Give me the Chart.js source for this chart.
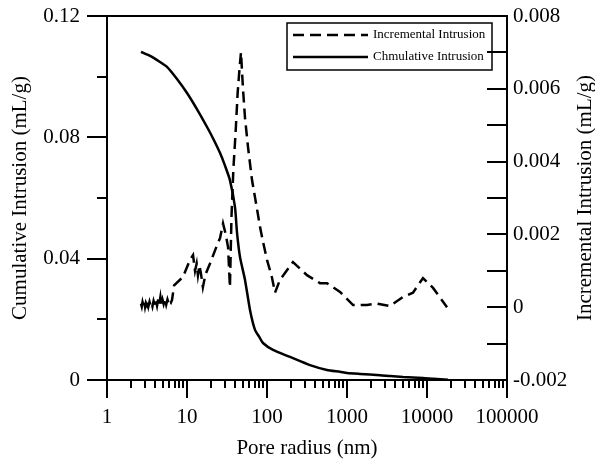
<!DOCTYPE html>
<html lang="en">
<head>
<meta charset="UTF-8">
<title>Pore size distribution</title>
<script src="https://cdn.jsdelivr.net/npm/chart.js"></script>
<style>
  html, body { margin: 0; padding: 0; background: #fff; }
</style>
</head>
<body>
<canvas id="myChart" width="595" height="463"></canvas>
<script>
// cumulative intrusion (left axis)
const cumRadius = [2.66, 3.5, 4.5, 5.62, 7.5, 10, 13.3, 17.8, 21.5, 25.9,
                   30, 34.4, 39.8, 42.2, 46, 53.1, 61.3, 70.8, 80, 89.1,
                   119, 194, 345, 562, 818, 1000, 1454, 2585, 3467, 5012,
                   8913, 12000, 18300];
const cumValue = [0.1082, 0.1068, 0.1050, 0.1032, 0.0992, 0.0946, 0.0893, 0.0834, 0.0793, 0.0748,
                  0.0705, 0.0659, 0.0570, 0.0485, 0.0405, 0.0330, 0.0231, 0.0165, 0.0142, 0.0122,
                  0.0099, 0.0076, 0.0049, 0.0033, 0.0027, 0.0023, 0.0020, 0.0016, 0.0013, 0.0010,
                  0.0007, 0.0004, 0.0001];

// incremental intrusion (right axis)
const incRadius = [2.66, 2.72, 2.78, 2.85, 2.92, 2.99, 3.06, 3.14, 3.22, 3.3,
                   3.4, 3.5, 3.6, 3.7, 3.82, 3.95, 4.08, 4.22, 4.36, 4.5,
                   4.65, 4.8, 4.95, 5.1, 5.3, 5.5, 5.7, 5.9, 6.1, 6.3,
                   6.5, 6.9, 8.9, 10.9, 11.9, 12.6, 13.2, 13.7, 14.3, 15.0,
                   15.8, 17.0, 19.4, 23.7, 25.9, 28.2, 30.5, 32.6, 34.4, 36.0,
                   38.0, 40.5, 43.0, 45.5, 47.3, 50.1, 53.1, 57.9, 64.9, 75,
                   81.9, 89.1, 100, 115, 126, 145, 211, 316, 460, 562,
                   818, 1190, 1780, 2370, 3430, 5010, 6680, 8910, 11900, 17800];
const incValue = [0.00010, 0.00002, 0.00014, 0.00004, 0.00016, 0.00001, 0.00012, 0.00006, 0.00018, 0.00003,
                  0.00015, 0.00005, 0.00012, 0.00002, 0.00017, 0.00006, 0.00019, 0.00004, 0.00022, 0.00008,
                  0.00028, 0.00005, 0.00020, 0.00009, 0.00024, 0.00007, 0.00021, 0.00010, 0.00018, 0.00013,
                  0.00020, 0.0006, 0.00083, 0.0013, 0.00143, 0.0010, 0.0012, 0.00088, 0.00115, 0.0009,
                  0.00055, 0.0009, 0.0012, 0.0017, 0.0019, 0.0023, 0.0020, 0.00165, 0.00055, 0.0025,
                  0.0038, 0.0048, 0.0059, 0.0066, 0.0070, 0.0060, 0.0052, 0.0044, 0.0035, 0.0027,
                  0.0022, 0.0018, 0.0013, 0.00083, 0.0004, 0.00075, 0.00124, 0.00088, 0.00066, 0.00066,
                  0.00042, 0.00006, 0.00006, 0.0001, 0.00003, 0.00028, 0.0004, 0.0008, 0.00053, 0.0];

// tick labels
const xTickValues = [1, 10, 100, 1000, 10000, 100000];
const xTickLabels = ['1', '10', '100', '1000', '10000', '100000'];
const leftTickValues = [0, 0.04, 0.08, 0.12];
const leftTickLabels = ['0', '0.04', '0.08', '0.12'];
const rightTickValues = [-0.002, 0, 0.002, 0.004, 0.006, 0.008];
const rightTickLabels = ['-0.002', '0', '0.002', '0.004', '0.006', '0.008'];

const seriesNames = ['Incremental Intrusion', 'Chmulative Intrusion'];
const axisTitles = ['Pore radius (nm)', 'Cumulative Intrusion (mL/g)', 'Incremental Intrusion (mL/g)'];

const SERIF = "'Liberation Serif', 'Times New Roman', serif";
Chart.defaults.font.family = SERIF;
Chart.defaults.color = '#000';

function pickLabel(v, values, labels) {
  for (let i = 0; i < values.length; i++) {
    if (Math.abs(v - values[i]) < 1e-9 * Math.max(1, Math.abs(values[i]))) return labels[i];
  }
  return '';
}

// frame, tick marks, right title and boxed legend
const axisFrame = {
  id: 'axisFrame',
  afterDraw(chart) {
    const {ctx, chartArea: a, scales} = chart;
    const xs = scales.x, yl = scales.y, yr = scales.y1;
    ctx.save();
    ctx.strokeStyle = '#000';
    ctx.lineWidth = 2;
    ctx.beginPath();
    ctx.rect(a.left, a.top, a.right - a.left, a.bottom - a.top);
    ctx.stroke();

    ctx.beginPath();
    for (let e = 0; e <= 5; e++) {
      for (let s = 1; s <= 9; s++) {
        const v = s * Math.pow(10, e);
        if (v > xs.max) break;
        const px = Math.round(xs.getPixelForValue(v));
        ctx.moveTo(px, a.bottom);
        ctx.lineTo(px, a.bottom + (s === 1 ? 18 : 8));
      }
    }
    yl.ticks.forEach(t => {
      const py = Math.round(yl.getPixelForValue(t.value));
      ctx.moveTo(a.left, py);
      ctx.lineTo(a.left - (t.label ? 20 : 10), py);
    });
    yr.ticks.forEach(t => {
      const py = Math.round(yr.getPixelForValue(t.value));
      ctx.moveTo(a.right, py);
      ctx.lineTo(a.right - 20, py);
    });
    ctx.stroke();

    // right axis title, reads bottom to top
    ctx.save();
    ctx.translate(585, (a.top + a.bottom) / 2);
    ctx.rotate(-Math.PI / 2);
    ctx.font = '21px ' + SERIF;
    ctx.fillStyle = '#000';
    ctx.textAlign = 'center';
    ctx.textBaseline = 'middle';
    ctx.fillText(axisTitles[2], 0, 0);
    ctx.restore();

    // legend box
    const lx = a.right - 220, ly = a.top + 7;
    ctx.lineWidth = 1.5;
    ctx.strokeRect(lx, ly, 205, 47);
    ctx.font = '13px ' + SERIF;
    ctx.fillStyle = '#000';
    ctx.textAlign = 'left';
    ctx.textBaseline = 'middle';
    chart.data.datasets.forEach((ds, i) => {
      const yy = ly + 12 + i * 22;
      ctx.lineWidth = 2.5;
      ctx.setLineDash(ds.borderDash || []);
      ctx.beginPath();
      ctx.moveTo(lx + 6, yy);
      ctx.lineTo(lx + 81, yy);
      ctx.stroke();
      ctx.setLineDash([]);
      ctx.fillText(ds.label, lx + 86, yy);
    });
    ctx.restore();
  }
};

const ctx = document.getElementById('myChart');
new Chart(ctx, {
  type: 'line',
  data: {
    datasets: [{
      label: seriesNames[0],
      data: incRadius.map((r, i) => ({x: r, y: incValue[i]})),
      yAxisID: 'y1',
      borderColor: '#000',
      borderWidth: 2.5,
      borderDash: [11, 6],
      pointRadius: 0,
      tension: 0,
      fill: false
    }, {
      label: seriesNames[1],
      data: cumRadius.map((r, i) => ({x: r, y: cumValue[i]})),
      yAxisID: 'y',
      borderColor: '#000',
      borderWidth: 2.5,
      pointRadius: 0,
      tension: 0.2,
      fill: false
    }]
  },
  options: {
    responsive: false,
    animation: false,
    devicePixelRatio: 1,
    layout: { padding: { top: 16, left: 0, right: 0, bottom: 0 } },
    plugins: {
      legend: { display: false },
      tooltip: { enabled: false }
    },
    scales: {
      x: {
        type: 'logarithmic',
        position: 'bottom',
        min: 1,
        max: 100000,
        grid: { display: false, tickLength: 22 },
        border: { display: false },
        ticks: {
          autoSkip: false,
          maxRotation: 0,
          padding: 3,
          font: { size: 21 },
          color: '#000',
          callback: v => pickLabel(v, xTickValues, xTickLabels)
        },
        title: { display: true, text: axisTitles[0], font: { size: 21 }, color: '#000', padding: { top: 0, bottom: 2 } },
        afterFit: s => { s.height = 83; }
      },
      y: {
        position: 'left',
        min: 0,
        max: 0.12,
        grid: { display: false, tickLength: 24 },
        border: { display: false },
        ticks: {
          stepSize: 0.02,
          autoSkip: false,
          padding: 3,
          font: { size: 21 },
          color: '#000',
          callback: v => pickLabel(v, leftTickValues, leftTickLabels)
        },
        title: { display: true, text: axisTitles[1], font: { size: 21 }, color: '#000', padding: { top: 8, bottom: 0 } },
        afterFit: s => { s.width = 107; }
      },
      y1: {
        position: 'right',
        min: -0.002,
        max: 0.008,
        grid: { display: false, tickLength: 3 },
        border: { display: false },
        ticks: {
          stepSize: 0.001,
          autoSkip: false,
          padding: 3,
          font: { size: 21 },
          color: '#000',
          callback: v => pickLabel(v, rightTickValues, rightTickLabels)
        },
        afterFit: s => { s.width = 88; }
      }
    }
  },
  plugins: [axisFrame]
});
</script>
</body>
</html>
